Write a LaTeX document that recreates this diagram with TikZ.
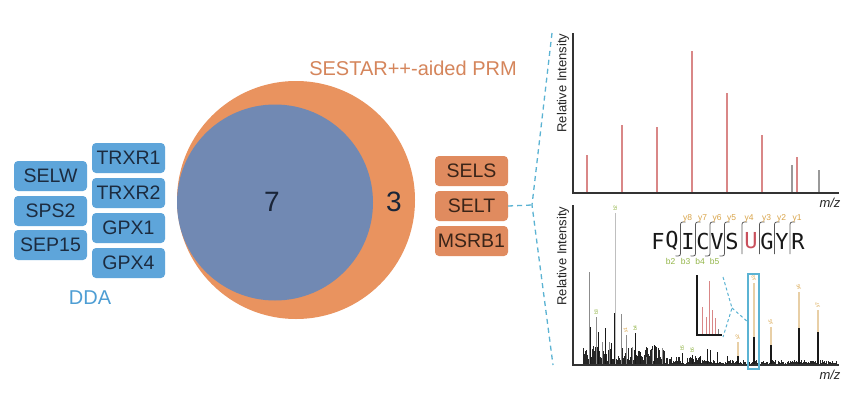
\documentclass[tikz,border=0pt]{standalone}
\usepackage{fontspec}
\setmainfont{Liberation Sans}
\newfontfamily\pepfont{DejaVu Sans Mono}
\definecolor{boxblue}{HTML}{5EA5DA}
\definecolor{boxorange}{HTML}{E08B5F}
\definecolor{circblue}{HTML}{7189B3}
\definecolor{circorange}{HTML}{E9935F}
\definecolor{ddablue}{HTML}{4E9ED4}
\definecolor{prmtext}{HTML}{D5855B}
\definecolor{dashcol}{HTML}{5BB3D3}
\definecolor{peakred}{HTML}{D98787}
\definecolor{ylab}{HTML}{D9A347}
\definecolor{blab}{HTML}{93B548}
\definecolor{boxtext}{HTML}{1C2B3F}
\definecolor{otext}{HTML}{3A2418}
\definecolor{numcol}{HTML}{1A2538}
\definecolor{tan}{HTML}{E8CFA6}
\definecolor{ured}{HTML}{C9505C}
\begin{document}
\begin{tikzpicture}[x=1pt,y=-1pt,
  bbox/.style={fill=boxblue, rounded corners=4pt, minimum width=73pt, minimum height=30pt, inner sep=0pt, font=\fontsize{19.5}{21}\selectfont, text=boxtext},
  obox/.style={fill=boxorange, rounded corners=4pt, minimum width=73pt, minimum height=30pt, inner sep=0pt, font=\fontsize{19.5}{21}\selectfont, text=otext},
  dashln/.style={draw=dashcol, line width=1.3pt, dash pattern=on 5pt off 4pt},
  axisln/.style={draw=black!80, line width=1.5pt},
  ylabel/.style={font=\fontsize{13}{14}\selectfont, rotate=90, text=black!85},
  mz/.style={font=\fontsize{13}{14}\selectfont\itshape, text=black!85},
  pep/.style={font=\pepfont\fontsize{22}{23}\selectfont, text=black!90, inner sep=0pt},
  sepln/.style={draw=black!65, line width=0.8pt},
  ionlab/.style={font=\fontsize{8.5}{9}\selectfont, inner sep=0pt},
  tiny/.style={font=\fontsize{5}{5}\selectfont, rotate=90, inner sep=0pt, anchor=west}
]
\path[use as bounding box, fill=white] (0,0) rectangle (860,394);

% Venn
\node[circle, fill=circorange, minimum size=238pt, inner sep=0pt] (prm) at (296,200) {};
\node[circle, fill=circblue, minimum size=196pt, inner sep=0pt] (dda) at (275,202.5) {};
\node[font=\fontsize{28}{30}\selectfont, text=numcol] (n7) at (272,202) {7};
\node[font=\fontsize{28}{30}\selectfont, text=numcol] (n3) at (394,202) {3};
\node[text=prmtext, font=\fontsize{20}{24}\selectfont] (prmlab) at (413,68) {SESTAR++-aided PRM};
\node[text=ddablue, font=\fontsize{20}{24}\selectfont] (ddalab) at (90,298) {DDA};

% left boxes
\node[bbox] (selw) at (50.5,176) {SELW};
\node[bbox] (sps2) at (50.5,211) {SPS2};
\node[bbox] (sep15) at (50.5,245) {SEP15};
\node[bbox] (trxr1) at (128.5,158) {TRXR1};
\node[bbox] (trxr2) at (128.5,193) {TRXR2};
\node[bbox] (gpx1) at (128.5,228) {GPX1};
\node[bbox] (gpx4) at (128.5,263) {GPX4};

% right boxes
\node[obox] (sels) at (471.5,171) {SELS};
\node[obox] (selt) at (471.5,206) {SELT};
\node[obox] (msrb1) at (471.5,241) {MSRB1};

% dashed connector
\coordinate (tip) at (532,205);
\coordinate (ctop) at (552,33);
\coordinate (cbot) at (553,365);
\draw[dashln] (selt.east) -- (tip);
\draw[dashln] (ctop) -- (tip) -- (cbot);

% top spectrum
\draw[axisln] (573,33) -- (573,193) -- (839,193);
\node[ylabel] (ri1) at (563,83) {Relative Intensity};
\node[mz] (mz1) at (830,203) {m/z};
\foreach \x/\t in {587/155,622/125,657/127,692/51,727/93,762/135,797/157}
  \draw[peakred, line width=1.3pt] (\x,192) -- (\x,\t);
\foreach \x/\t in {792/165,819/170}
  \draw[black!40, line width=1.3pt] (\x,192) -- (\x,\t);

% bottom spectrum
\pgfmathsetseed{7}
\foreach \x in {583,584,...,836} {
  \pgfmathsetmacro\h{(\x<665 ? 3+rnd*15 : (\x<700 ? rnd*8 : rnd*4))}
  \draw[black!85, line width=0.7pt] (\x,364) -- (\x,364-\h);
}
\foreach \x/\t in {589/272,596/317,602/342,609/342,621/314,626/335,632/347,646/357,652/350,662/348}
  \draw[black!45, line width=1pt] (\x,364) -- (\x,\t);
\draw[black!25, line width=1pt] (615,364) -- (615,213);
\foreach \x/\t in {590/327,598/332,605/328,611/343,614/313,635/333,640/352,654/345,682/353,692/355,707/349,710/350,700/356,717/352,727/356}
  \draw[black!90, line width=1pt] (\x,364) -- (\x,\t);
\foreach \x/\t/\b in {738/342/356,754/283/337,771/327/345,799/292/328,818/310/332}{
  \draw[tan, line width=1.2pt] (\x,364) -- (\x,\t);
  \draw[black!90, line width=1.2pt] (\x,364) -- (\x,\b);
}
% peak labels
\foreach \x/\t/\l in {615/211/b2,596/315/b3,635/331/b4,682/351/b5,692/353/b6}
  \node[tiny, text=blab] at (\x,\t) {\l};
\foreach \x/\t/\l in {626/333/y1,738/340/y2,754/281/y3,771/325/y5,799/290/y6,818/308/y7}
  \node[tiny, text=ylab] at (\x,\t) {\l};
\draw[axisln] (573,205) -- (573,365) -- (839,365);
\node[ylabel] (ri2) at (563,256) {Relative Intensity};
\node[mz] (mz2) at (830,375) {m/z};

% peptide
\node[pep] (aaF) at (658,241) {F};
\node[pep] (aaQ) at (672,241) {Q};
\node[pep] (aaI) at (688,241) {I};
\node[pep] (aaC) at (703,241) {C};
\node[pep] (aaV) at (717,241) {V};
\node[pep] (aaS) at (732,241) {S};
\node[pep, text=ured] (aaU) at (751,241) {U};
\node[pep] (aaG) at (767,241) {G};
\node[pep] (aaY) at (782,241) {Y};
\node[pep] (aaR) at (798,241) {R};
\foreach \s/\yl/\bl in {680.5/y8/b2,695.5/y7/b3,710/y6/b4,724.5/y5/b5}{
  \draw[sepln] (\s+5,222) .. controls (\s,222) .. (\s,227) -- (\s,251) .. controls (\s,256) .. (\s-5,256);
  \node[ionlab, text=ylab] at (\s+7,218) {\yl};
  \node[ionlab, text=blab] at (\s-10,261) {\bl};
}
\foreach \s/\yl in {742/y4,759.5/y3,774.5/y2,790/y1}{
  \draw[sepln] (\s+5,222) .. controls (\s,222) .. (\s,227) -- (\s,254);
  \node[ionlab, text=ylab] at (\s+7,218) {\yl};
}

% inset
\foreach \x/\t in {702/307,706/317,709/281,712/310,715/318}
  \draw[peakred, line width=1pt] (\x,335) -- (\x,\t);
\draw[black!50, line width=1pt] (718,335) -- (718,329);
\draw[black!90, line width=1.4pt] (697,275) -- (697,335) -- (722,335);
\coordinate (ch1) at (723,277);
\coordinate (ch2) at (732,308);
\coordinate (ch3) at (723,337);
\draw[dashln, line width=1pt, dash pattern=on 3pt off 2.5pt] (ch1) -- (ch2) -- (ch3);
\node[draw=dashcol, line width=1.3pt, minimum width=11pt, minimum height=95pt, inner sep=0pt] (hbox) at (753.5,321.5) {};
\draw[dashln, line width=1pt, dash pattern=on 3pt off 2.5pt] (ch2) -- (hbox.west);
\end{tikzpicture}
\end{document}
